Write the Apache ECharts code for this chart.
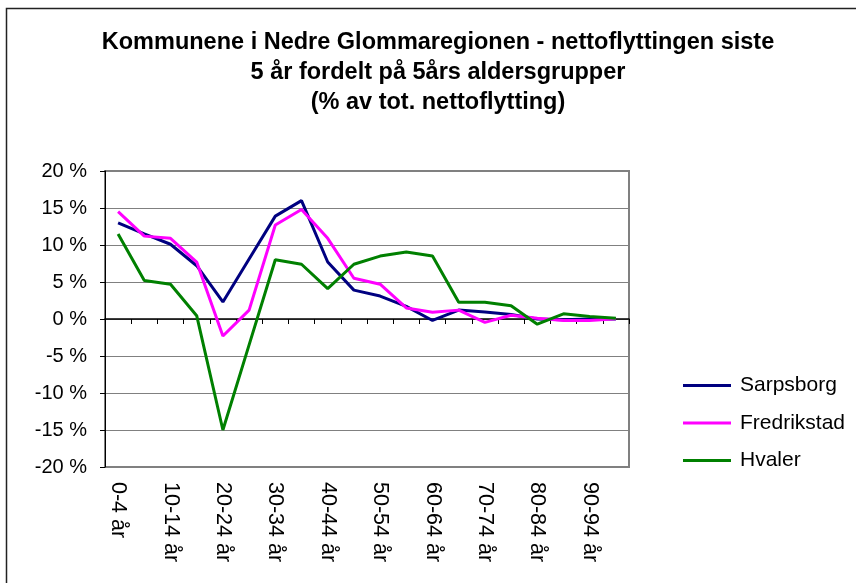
<!DOCTYPE html>
<html>
<head>
<meta charset="utf-8">
<script src="https://cdn.jsdelivr.net/npm/echarts@6/dist/echarts.min.js"></script>
<style>html,body{margin:0;padding:0;background:#fff}#c{width:856px;height:583px}</style>
</head>
<body>
<div id="c"></div>
<script>
const categories = ['0-4 år','5-9 år','10-14 år','15-19 år','20-24 år','25-29 år','30-34 år','35-39 år','40-44 år','45-49 år','50-54 år','55-59 år','60-64 år','65-69 år','70-74 år','75-79 år','80-84 år','85-89 år','90-94 år','95-99 år'];
const sarpsborg = [13.0, 11.5, 10.1, 7.2, 2.3, 8.1, 13.9, 16.0, 7.7, 3.9, 3.1, 1.7, -0.2, 1.2, 0.95, 0.6, 0.0, -0.1, 0.0, 0.0];
const fredrikstad = [14.5, 11.2, 10.9, 7.7, -2.3, 1.2, 12.7, 14.8, 10.9, 5.5, 4.7, 1.5, 0.9, 1.2, -0.45, 0.5, 0.1, -0.2, -0.2, 0.05];
const hvaler = [11.5, 5.2, 4.7, 0.45, -15.0, -3.5, 8.0, 7.4, 4.1, 7.4, 8.5, 9.05, 8.5, 2.25, 2.25, 1.8, -0.7, 0.7, 0.35, 0.1];
const seriesNames = ['Sarpsborg','Fredrikstad','Hvaler'];
const titleText = 'Kommunene i Nedre Glommaregionen - nettoflyttingen siste\n5 år fordelt på 5års aldersgrupper\n(% av tot. nettoflytting)';

const FONT = 'Arial, "Liberation Sans", sans-serif';
const chart = echarts.init(document.getElementById('c'));
chart.setOption({
  animation: false,
  backgroundColor: '#fff',
  textStyle: { fontFamily: FONT },
  graphic: [{
    type: 'rect', z: 100, silent: true,
    shape: { x: 6.5, y: 8.5, width: 1000, height: 1000 },
    style: { fill: 'none', stroke: '#222', lineWidth: 1.5 }
  }, {
    type: 'text', z: 100, silent: true,
    x: 438, y: 28,
    style: {
      text: titleText, align: 'center', verticalAlign: 'top',
      font: 'bold 23.5px ' + FONT, lineHeight: 30, fill: '#000'
    }
  }],
  legend: {
    orient: 'vertical', left: 678, top: 370,
    icon: 'rect', itemWidth: 48, itemHeight: 3, itemGap: 16.5,
    textStyle: { fontFamily: FONT, fontSize: 21, color: '#000', padding: [0, 0, 0, 4] },
    data: seriesNames
  },
  grid: {
    left: 105, right: 227, top: 171, bottom: 116,
    show: true, borderColor: '#808080', borderWidth: 2, backgroundColor: 'transparent'
  },
  xAxis: [{
    type: 'category', data: categories, position: 'bottom', boundaryGap: true,
    axisLine: { onZero: true, lineStyle: { color: '#000', width: 1.5 } },
    axisTick: { show: true, interval: 0, length: 5, lineStyle: { color: '#000' } },
    axisLabel: { show: false }
  }, {
    type: 'category', data: categories, position: 'bottom', boundaryGap: true,
    axisLine: { show: false, onZero: false },
    axisTick: { show: false },
    axisLabel: { show: true, interval: 1, rotate: -90, margin: 15, fontSize: 21.5, color: '#000', fontFamily: FONT }
  }],
  yAxis: {
    type: 'value', min: -20, max: 20, interval: 5,
    axisLine: { show: true, lineStyle: { color: '#000', width: 1 } },
    axisTick: { show: true, length: 5, lineStyle: { color: '#000' } },
    axisLabel: { formatter: v => v + ' %', fontSize: 20, color: '#000', margin: 18, fontFamily: FONT },
    splitLine: { show: true, lineStyle: { color: '#808080', width: 1 } }
  },
  series: [
    { name: seriesNames[0], type: 'line', data: sarpsborg, symbol: 'none', xAxisIndex: 0, lineStyle: { color: '#000080', width: 3 }, itemStyle: { color: '#000080' } },
    { name: seriesNames[1], type: 'line', data: fredrikstad, symbol: 'none', xAxisIndex: 0, lineStyle: { color: '#FF00FF', width: 3 }, itemStyle: { color: '#FF00FF' } },
    { name: seriesNames[2], type: 'line', data: hvaler, symbol: 'none', xAxisIndex: 0, lineStyle: { color: '#008000', width: 3 }, itemStyle: { color: '#008000' } }
  ]
});
</script>
</body>
</html>
